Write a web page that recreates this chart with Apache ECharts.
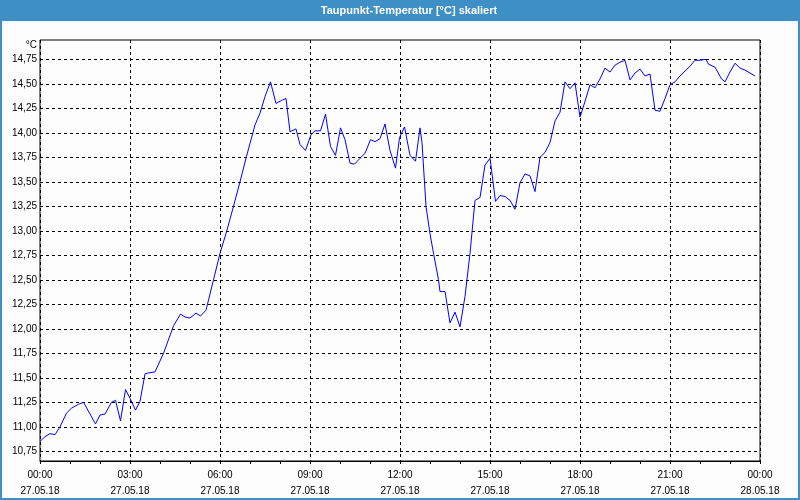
<!DOCTYPE html>
<html><head><meta charset="utf-8">
<script src="https://cdn.jsdelivr.net/npm/echarts@6/dist/echarts.min.js"></script>
<style>html,body{margin:0;padding:0;background:#fcfdfc}#c{width:800px;height:500px}</style>
</head><body><div id="c"></div>
<script>
// minutes since 27.05.18 00:00
var times = [0,10,20,30,40,53,63,77,87,90,111,120,130,143,151,161,171,180,191,200,210,217,230,247,267,281,290,300,312,321,332,347,360,373,387,400,413,430,440,450,461,472,483,492,500,512,520,531,542,550,561,571,581,591,601,610,620,629,640,650,661,670,680,690,700,711,719,729,740,751,760,764,772,780,787,797,800,810,820,830,840,850,860,870,880,890,900,911,920,930,940,950,960,970,980,990,1000,1010,1020,1030,1040,1050,1060,1070,1080,1090,1100,1110,1120,1130,1140,1150,1160,1170,1180,1190,1200,1210,1220,1230,1240,1250,1260,1270,1280,1290,1300,1310,1320,1332,1337,1350,1363,1370,1380,1390,1400,1410,1420,1430];
var temps = [10.85,10.90,10.93,10.92,11.00,11.14,11.19,11.23,11.25,11.23,11.03,11.12,11.13,11.25,11.27,11.06,11.38,11.29,11.17,11.26,11.54,11.55,11.56,11.75,12.03,12.15,12.12,12.11,12.16,12.13,12.19,12.50,12.77,12.99,13.25,13.50,13.76,14.08,14.20,14.37,14.52,14.30,14.33,14.35,14.01,14.04,13.88,13.82,13.98,14.02,14.02,14.19,13.86,13.77,14.05,13.93,13.69,13.68,13.74,13.79,13.93,13.91,13.94,14.09,13.82,13.64,13.95,14.06,13.77,13.71,14.05,13.90,13.25,12.97,12.77,12.50,12.38,12.38,12.06,12.17,12.02,12.33,12.77,13.31,13.34,13.67,13.74,13.30,13.36,13.35,13.31,13.22,13.49,13.58,13.56,13.40,13.75,13.80,13.90,14.12,14.21,14.52,14.45,14.51,14.16,14.32,14.49,14.46,14.55,14.66,14.62,14.69,14.72,14.74,14.54,14.61,14.65,14.58,14.60,14.23,14.22,14.35,14.49,14.52,14.58,14.63,14.68,14.74,14.74,14.75,14.70,14.67,14.55,14.52,14.62,14.71,14.66,14.64,14.61,14.58];
var yTickMin = 10.75, yTickMax = 14.75, yStep = 0.25;
var titleText = 'Taupunkt-Temperatur [°C] skaliert';
var unitText = '°C';

var data = times.map(function(t, i){ return [t, temps[i]]; });
var FONT = 'Liberation Sans';
function pad(n){ return (n < 10 ? '0' : '') + n; }
var chart = echarts.init(document.getElementById('c'), null, {renderer:'canvas'});
chart.setOption({
  animation: false,
  backgroundColor: '#fcfdfc',
  graphic: [
    {type:'rect', shape:{x:0,y:0,width:800,height:21}, style:{fill:'#3d8fc6'}, z:10},
    {type:'rect', shape:{x:1,y:1,width:798,height:498}, style:{fill:'none', stroke:'#3d8fc6', lineWidth:2}, z:10},
    {type:'text', x:409, y:11, style:{text:titleText, fill:'#ffffff', font:'bold 11px "' + FONT + '"', align:'center', verticalAlign:'middle'}, z:11},
    {type:'text', x:37, y:45, style:{text:unitText, fill:'#000', font:'10px "' + FONT + '"', align:'right', verticalAlign:'middle'}, z:11}
  ],
  grid: [
    {left:40, top:40, width:720, height:421, show:true, borderColor:'#000', borderWidth:1, backgroundColor:'#fcfdfc'},
    {left:40, top:59.3, width:720, height:392}
  ],
  xAxis: [
    {gridIndex:0, type:'value', min:0, max:1440, interval:180,
     axisLine:{show:true, lineStyle:{color:'#000', width:1}},
     axisTick:{show:true, length:3, lineStyle:{color:'#000'}},
     minorTick:{show:true, splitNumber:3, length:3, lineStyle:{color:'#000'}},
     splitLine:{show:true, lineStyle:{color:'#000', type:[3,3], width:1}},
     axisLabel:{margin:6, lineHeight:16, color:'#000', fontFamily:FONT, fontSize:10,
       formatter:function(v){ var h = Math.round(v/60); var day = h >= 24 ? '28.05.18' : '27.05.18'; return pad(h % 24) + ':00\n' + day; }}
    },
    {gridIndex:1, type:'value', min:0, max:1440, show:false}
  ],
  yAxis: [
    {gridIndex:0, type:'value', min:0, max:1, show:false},
    {gridIndex:1, type:'value', min:yTickMin, max:yTickMax, interval:yStep,
     axisLine:{show:false}, axisTick:{show:false},
     splitLine:{show:true, lineStyle:{color:'#000', type:[3,3], width:1}},
     axisLabel:{margin:3, color:'#000', fontFamily:FONT, fontSize:10,
       formatter:function(v){ return v.toFixed(2).replace('.', ','); }}
    }
  ],
  series: [{
    type:'line', xAxisIndex:1, yAxisIndex:1, data:data, symbol:'none',
    lineStyle:{color:'#0000ff', width:1}, z:5
  }]
});
</script></body></html>
